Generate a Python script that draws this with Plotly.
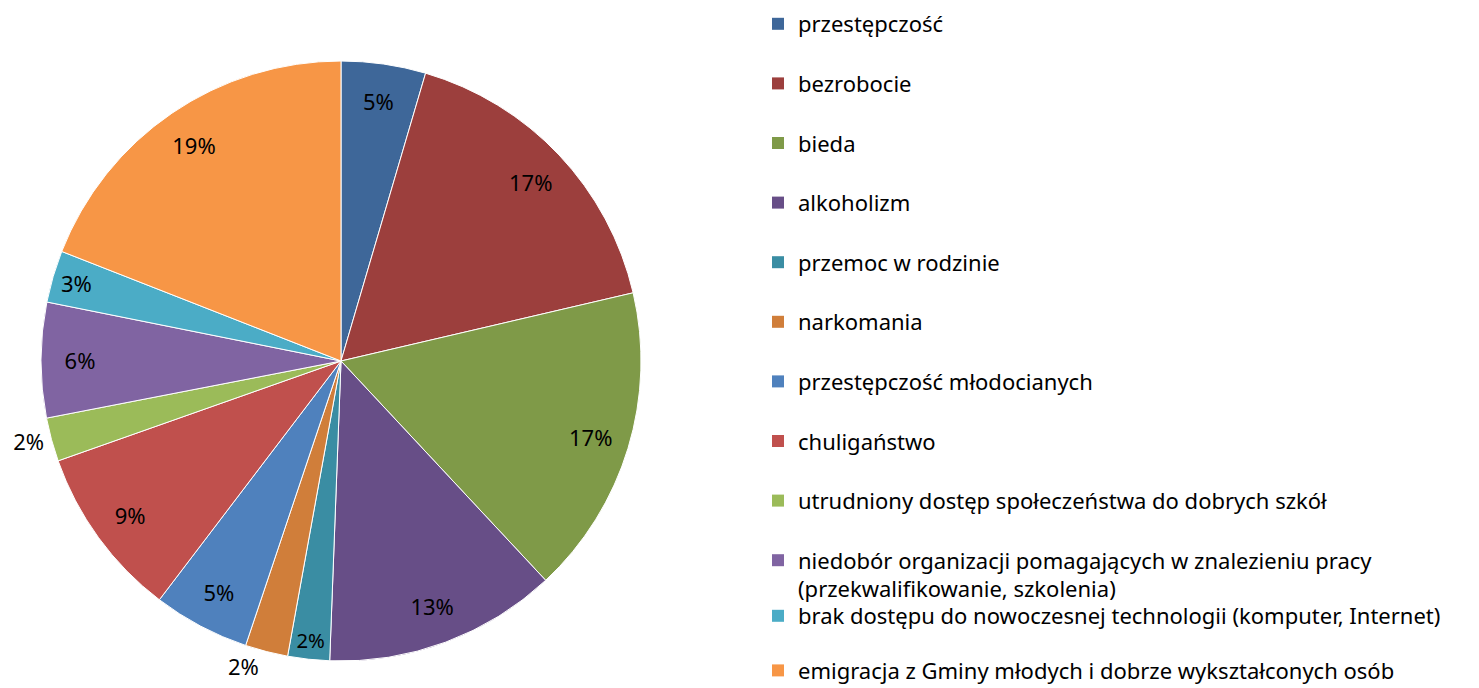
import plotly.graph_objects as go

# dane (udział w %)
kategorie = [
    "przestępczość",
    "bezrobocie",
    "bieda",
    "alkoholizm",
    "przemoc w rodzinie",
    "narkomania",
    "przestępczość młodocianych",
    "chuligaństwo",
    "utrudniony dostęp społeczeństwa do dobrych szkół",
    "niedobór organizacji pomagających w znalezieniu pracy<br>(przekwalifikowanie, szkolenia)",
    "brak dostępu do nowoczesnej technologii (komputer, Internet)",
    "emigracja z Gminy młodych i dobrze wykształconych osób",
]
wartosci = [4.55, 16.8, 16.7, 12.55, 2.25, 2.3, 5.2, 9.25, 2.35, 6.2, 2.8, 19.05]
kolory = [
    "#3E6799", "#9C3F3D", "#7F9A48", "#674E87", "#3A8DA3", "#D07E3A",
    "#4F81BD", "#C0504D", "#9BBB59", "#8064A2", "#4BACC6", "#F79646",
]
pozycje_tekstu = ["inside"] * 12
pozycje_tekstu[5] = "outside"
pozycje_tekstu[8] = "outside"

FONT = "Noto Sans, Liberation Sans, sans-serif"
W, H = 1471, 680
dom_x = [33 / W, 633 / W]

fig = go.Figure()

# wycinki
fig.add_trace(go.Pie(
    labels=kategorie, values=wartosci, sort=False,
    direction="clockwise", rotation=0,
    marker=dict(colors=kolory, line=dict(color="white", width=1)),
    textinfo="none", showlegend=False, hoverinfo="label+percent",
    domain=dict(x=dom_x, y=[0, 1]),
))

# etykiety procentowe (pierścień, żeby etykiety były bliżej krawędzi)
fig.add_trace(go.Pie(
    labels=kategorie, values=wartosci, sort=False,
    direction="clockwise", rotation=0, hole=0.74,
    marker=dict(colors=["rgba(0,0,0,0)"] * len(kolory), line=dict(width=0)),
    texttemplate="%{percent:.0%}",
    textposition=pozycje_tekstu,
    insidetextorientation="horizontal",
    textfont=dict(family=FONT, size=22, color="black"),
    showlegend=False, hoverinfo="skip",
    domain=dict(x=dom_x, y=[0, 1]),
))

# legenda: osobne wpisy, żeby uzyskać duże odstępy jak w oryginale
for i, (k, c) in enumerate(zip(kategorie, kolory)):
    fig.add_trace(go.Scatter(
        x=[None], y=[None], mode="markers", name=k,
        marker=dict(symbol="square", size=12, color=c),
        legendgroup=f"g{i}", showlegend=True,
        legend="legend" if i < 10 else "legend2",
    ))

wspolne = dict(
    xanchor="left", yanchor="top",
    font=dict(family=FONT, size=22, color="black"),
    valign="top", itemwidth=30,
    traceorder="grouped", maxheight=1,
    bgcolor="rgba(0,0,0,0)",
)

fig.update_layout(
    width=W, height=H,
    margin=dict(l=0, r=0, t=53, b=27, autoexpand=False),
    paper_bgcolor="white", plot_bgcolor="white",
    xaxis=dict(visible=False), yaxis=dict(visible=False),
    legend=dict(x=750 / W, y=1 + 58 / 600, tracegroupgap=28, **wspolne),
    legend2=dict(x=750 / W, y=1 - (587 - 53) / 600, tracegroupgap=23, **wspolne),
)

fig.write_html("out.html")
